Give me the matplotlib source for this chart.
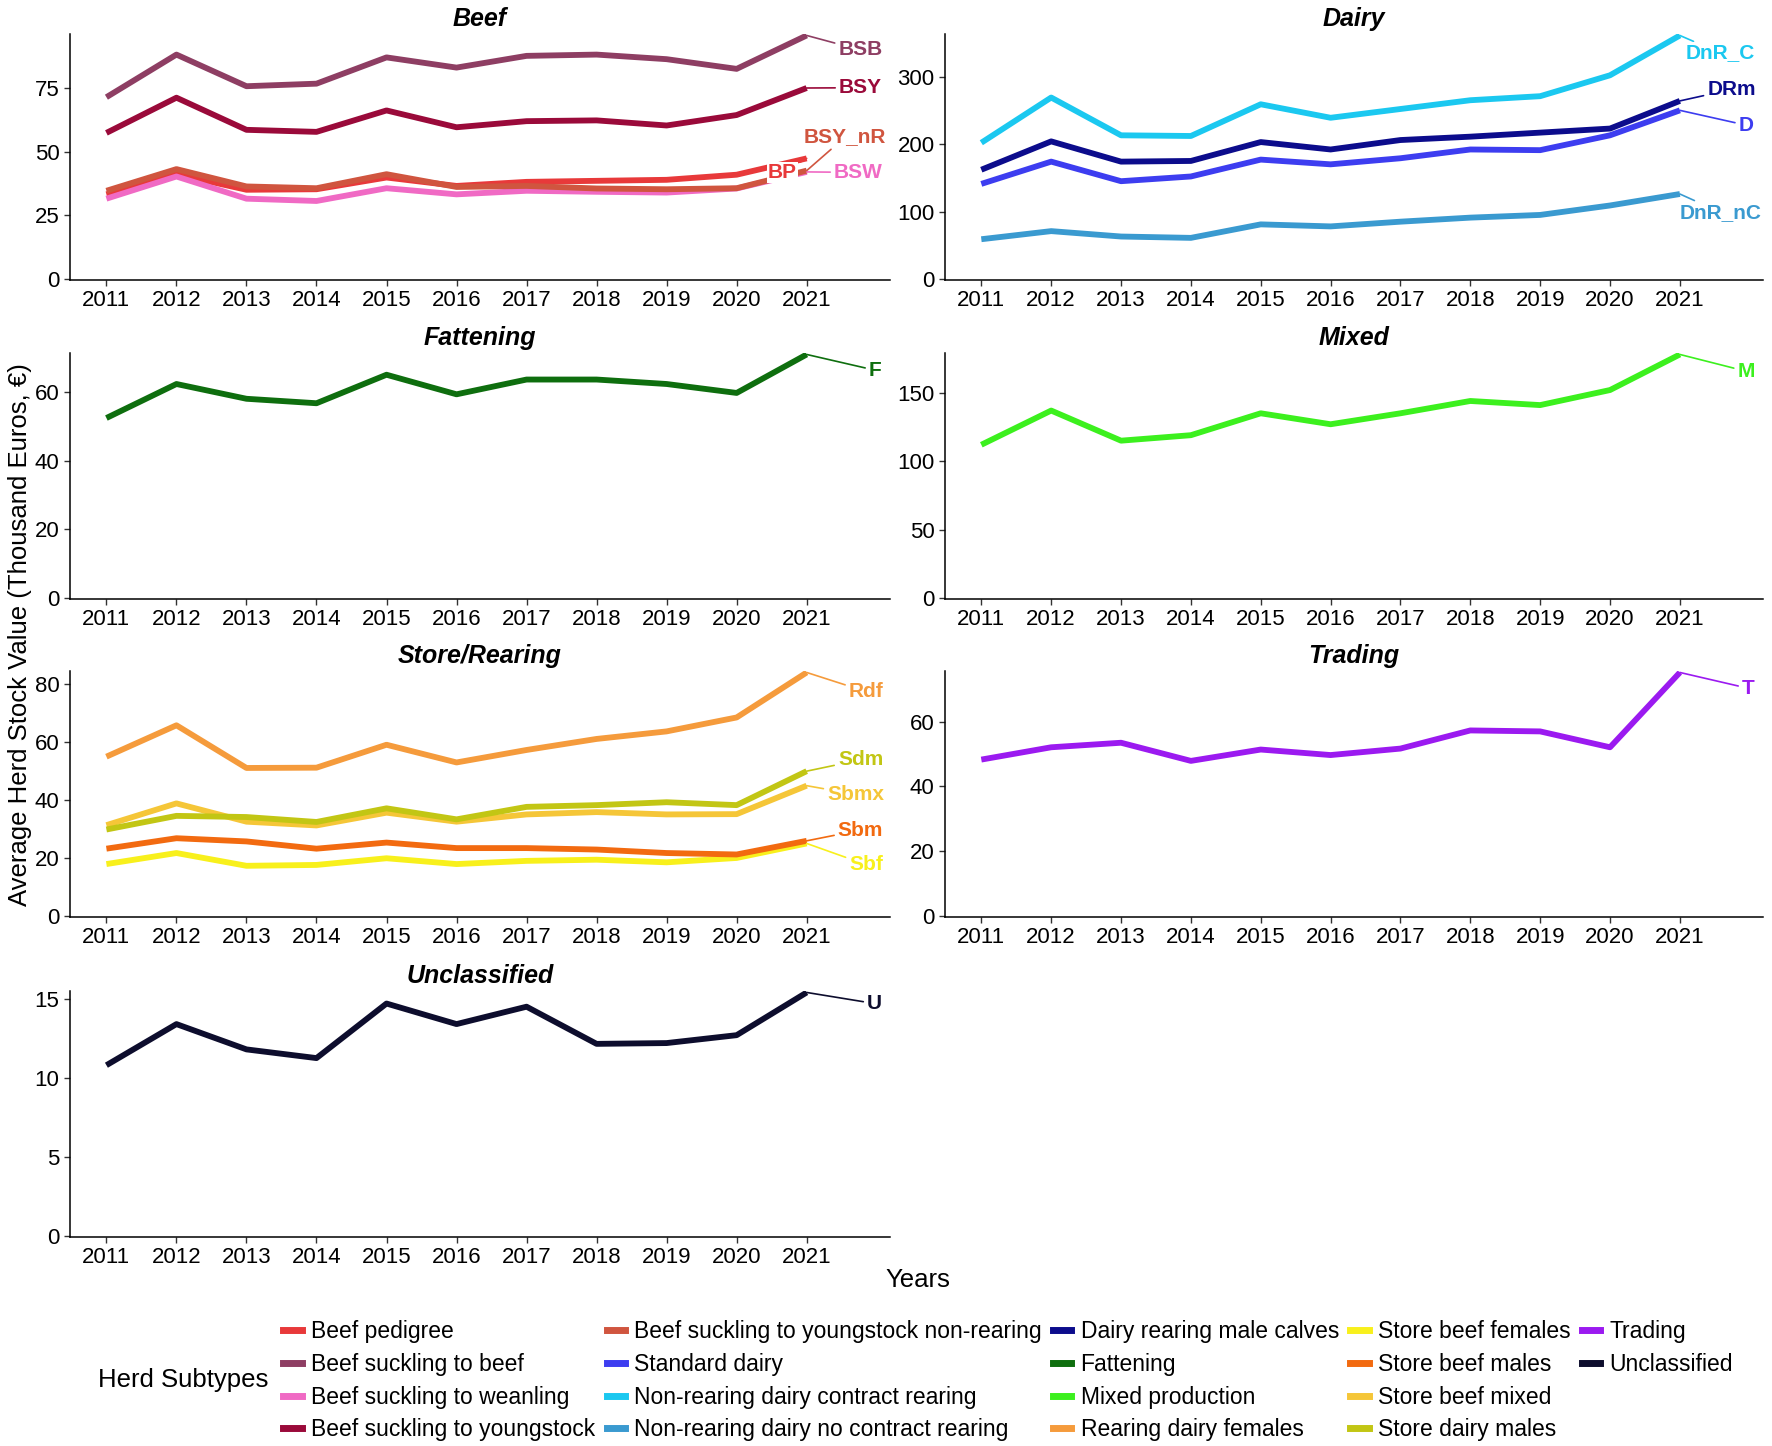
import matplotlib

matplotlib.use("Agg")
import matplotlib.pyplot as plt
from matplotlib.lines import Line2D
from matplotlib.ticker import MultipleLocator

plt.rcParams["font.family"] = ["Liberation Sans", "DejaVu Sans"]

years = list(range(2011, 2022))

# values in thousand euros
beef_pedigree = [33.2, 41.1, 35.0, 35.2, 39.8, 36.5, 38.1, 38.5, 38.9, 40.9, 47.3]
beef_suckling_beef = [71.3, 88.0, 75.6, 76.6, 86.9, 82.9, 87.5, 88.0, 86.2, 82.4, 95.5]
beef_suckling_weanling = [31.5, 40.2, 31.5, 30.6, 35.6, 33.2, 34.6, 34.2, 33.9, 35.5, 42.0]
beef_suckling_youngstock = [57.3, 71.1, 58.5, 57.7, 66.1, 59.5, 61.9, 62.2, 60.2, 64.3, 74.9]
beef_suckling_youngstock_nr = [34.6, 43.1, 36.3, 35.6, 41.1, 36.1, 36.5, 35.5, 35.2, 35.6, 42.5]
standard_dairy = [141, 174, 145, 152, 177, 170, 179, 192, 191, 213, 250]
nr_dairy_contract = [202, 269, 213, 212, 259, 239, 252, 265, 271, 302, 361]
nr_dairy_no_contract = [59, 71, 63, 61, 81, 78, 85, 91, 95, 109, 126]
dairy_rearing_male = [162, 204, 174, 175, 203, 192, 206, 211, 217, 223, 264]
fattening = [52.4, 62.3, 58.0, 56.7, 65.0, 59.3, 63.6, 63.6, 62.3, 59.7, 70.9]
mixed = [112, 137, 115, 119, 135, 127, 135, 144, 141, 152, 178]
rearing_dairy_females = [54.9, 65.7, 51.0, 51.1, 59.0, 52.9, 57.2, 61.0, 63.6, 68.4, 83.9]
store_beef_females = [17.9, 21.7, 17.3, 17.6, 19.9, 17.9, 19.0, 19.4, 18.5, 20.0, 25.0]
store_beef_males = [23.2, 26.8, 25.7, 23.2, 25.3, 23.4, 23.4, 22.9, 21.7, 21.2, 25.9]
store_beef_mixed = [31.3, 38.8, 32.5, 31.2, 35.6, 32.5, 35.0, 35.8, 35.0, 35.1, 44.9]
store_dairy_males = [29.8, 34.5, 34.1, 32.4, 37.1, 33.3, 37.6, 38.2, 39.2, 38.2, 49.9]
trading = [48.3, 52.1, 53.5, 47.9, 51.4, 49.7, 51.7, 57.3, 57.0, 52.1, 75.2]
unclassified = [10.8, 13.4, 11.8, 11.25, 14.7, 13.4, 14.5, 12.15, 12.2, 12.7, 15.4]

# (legend name, short label, values, colour, group)
subtypes = [
    ("Beef pedigree", "BP", beef_pedigree, "#E8393A", "Beef"),
    ("Beef suckling to beef", "BSB", beef_suckling_beef, "#8E3E63", "Beef"),
    ("Beef suckling to weanling", "BSW", beef_suckling_weanling, "#F06AC4", "Beef"),
    ("Beef suckling to youngstock", "BSY", beef_suckling_youngstock, "#9A0A3A", "Beef"),
    ("Beef suckling to youngstock non-rearing", "BSY_nR", beef_suckling_youngstock_nr, "#D0553F", "Beef"),
    ("Standard dairy", "D", standard_dairy, "#3D3DF0", "Dairy"),
    ("Non-rearing dairy contract rearing", "DnR_C", nr_dairy_contract, "#1BC8F0", "Dairy"),
    ("Non-rearing dairy no contract rearing", "DnR_nC", nr_dairy_no_contract, "#3A9AD0", "Dairy"),
    ("Dairy rearing male calves", "DRm", dairy_rearing_male, "#0C0C8C", "Dairy"),
    ("Fattening", "F", fattening, "#0E6E0E", "Fattening"),
    ("Mixed production", "M", mixed, "#3CF01E", "Mixed"),
    ("Rearing dairy females", "Rdf", rearing_dairy_females, "#F59B3C", "Store/Rearing"),
    ("Store beef females", "Sbf", store_beef_females, "#F8F01C", "Store/Rearing"),
    ("Store beef males", "Sbm", store_beef_males, "#F26A10", "Store/Rearing"),
    ("Store beef mixed", "Sbmx", store_beef_mixed, "#F5C638", "Store/Rearing"),
    ("Store dairy males", "Sdm", store_dairy_males, "#C2C614", "Store/Rearing"),
    ("Trading", "T", trading, "#9B1AF0", "Trading"),
    ("Unclassified", "U", unclassified, "#0D0D2D", "Unclassified"),
]

# label placement (x, y in data units) for the repelled end labels
label_pos = {
    "BSB": (2021.77, 89.8), "BSY": (2021.77, 75.0), "BSY_nR": (2021.55, 55.7),
    "BP": (2020.65, 41.8), "BSW": (2021.74, 41.8),
    "DnR_C": (2021.58, 335), "DRm": (2021.74, 281), "D": (2021.95, 228), "DnR_nC": (2021.58, 99),
    "F": (2021.98, 66.3), "M": (2021.95, 165.7),
    "Rdf": (2021.85, 77.3), "Sdm": (2021.77, 53.8), "Sbmx": (2021.7, 41.9),
    "Sbm": (2021.77, 29.6), "Sbf": (2021.85, 17.7),
    "T": (2021.98, 70.3), "U": (2021.97, 14.7),
}

panels = [
    ("Beef", 25, 0), ("Dairy", 100, 1),
    ("Fattening", 20, 0), ("Mixed", 50, 1),
    ("Store/Rearing", 20, 0), ("Trading", 20, 1),
    ("Unclassified", 5, 0),
]

W, H = 1772, 1446
fig = plt.figure(figsize=(W / 100, H / 100), dpi=100)

col_left = [70, 945]
col_width = [820, 818]
row_top = [34, 353, 671, 991]
row_h = 246

for i, (group, step, col) in enumerate(panels):
    row = i // 2
    ax = fig.add_axes([col_left[col] / W, 1 - (row_top[row] + row_h) / H,
                       col_width[col] / W, row_h / H])
    members = [s for s in subtypes if s[4] == group]
    ymax = max(max(s[2]) for s in members)
    for name, short, values, color, _ in members:
        ax.plot(years, values, color=color, linewidth=4.2, solid_capstyle="butt", zorder=2)
    for name, short, values, color, _ in members:
        lx, ly = label_pos[short]
        ax.annotate(short, xy=(years[-1], values[-1]), xytext=(lx, ly),
                    color=color, fontsize=15, fontweight="bold", ha="center", va="center",
                    bbox=dict(boxstyle="square,pad=0.05", fc="white", ec="none"),
                    arrowprops=dict(arrowstyle="-", color=color, lw=1.2, shrinkA=2, shrinkB=0),
                    zorder=3)
    ax.set_xlim(2010.48, 2022.19)
    ax.set_ylim(-0.004 * ymax, ymax * 1.006)
    ax.set_xticks(years)
    ax.yaxis.set_major_locator(MultipleLocator(step))
    ax.tick_params(labelsize=16, colors="#333333", labelcolor="black", length=4, width=1)
    for side in ("top", "right"):
        ax.spines[side].set_visible(False)
    for side in ("left", "bottom"):
        ax.spines[side].set_linewidth(1.1)
    ax.set_title(group, fontsize=18, fontweight="bold", fontstyle="italic", pad=6)

fig.text(20 / W, 1 - 635 / H, "Average Herd Stock Value (Thousand Euros, \u20ac)",
         rotation=90, ha="center", va="center", fontsize=18.5)
fig.text(918 / W, 1 - 1280 / H, "Years", ha="center", va="center", fontsize=18.5)
fig.text(183 / W, 1 - 1380 / H, "Herd Subtypes", ha="center", va="center", fontsize=18.5)

handles = [Line2D([0], [0], color=s[3], linewidth=5) for s in subtypes]
labels = [s[0] for s in subtypes]
# two blank slots so the last column holds only two entries
handles += [Line2D([0], [0], color="none")] * 2
labels += [" ", " "]
fig.legend(handles, labels, ncol=5, loc="upper left",
           bbox_to_anchor=(272 / W, 1 - 1309 / H), frameon=False, fontsize=16.5,
           handlelength=0.8, handletextpad=0.4, columnspacing=0.5, labelspacing=0.42,
           borderpad=0)

fig.savefig("out.png", dpi=100)
